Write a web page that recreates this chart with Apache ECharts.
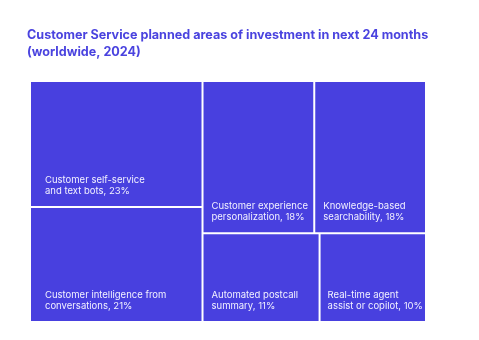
<!DOCTYPE html>
<html><head><meta charset="utf-8">
<script src="https://cdn.jsdelivr.net/npm/echarts@6/dist/echarts.min.js"></script>
<style>html,body{margin:0;padding:0;background:#fff}#c{width:479px;height:340px}</style>
</head><body><div id="c"></div>
<script>
const titleText = "Customer Service planned areas of investment in next 24 months\n(worldwide, 2024)";
const categories = [
  "Customer self-service\nand text bots",
  "Customer intelligence from\nconversations",
  "Customer experience\npersonalization",
  "Knowledge-based\nsearchability",
  "Automated postcall\nsummary",
  "Real-time agent\nassist or copilot"
];
const values = [23, 21, 18, 18, 11, 10];
// grouping used to reproduce layout: left column [0,1], right-top [2,3], right-bottom [4,5]
const groups = [[0, 1], [[2, 3], [4, 5]]];
const padLeft = [14, 14, 8, 8, 8, 7];

const fill = '#4840DF';
function leaf(i) {
  return {
    name: categories[i], value: values[i],
    label: { padding: [0, 0, 9, padLeft[i]] }
  };
}
function sum(arr) { return arr.reduce((a, b) => a + b, 0); }
const leftKids = groups[0].map(leaf);
const rightTop = groups[1][0].map(leaf);
const rightBot = groups[1][1].map(leaf);
const data = [
  { name: 'L', value: sum(groups[0].map(i => values[i])), children: [{ name: 'L1', value: sum(groups[0].map(i => values[i])), children: leftKids }] },
  { name: 'R', value: sum(groups[1].flat().map(i => values[i])), children: [
    { name: 'RT', value: sum(groups[1][0].map(i => values[i])), children: rightTop },
    { name: 'RB', value: sum(groups[1][1].map(i => values[i])), children: rightBot }
  ] }
];

const chart = echarts.init(document.getElementById('c'), null, { renderer: 'canvas' });
chart.setOption({
  animation: false,
  title: {
    text: titleText, left: 27, top: 26, padding: 0,
    textStyle: { color: '#4A43DF', fontFamily: 'Inter', fontWeight: 'bold', fontSize: 12.6, lineHeight: 17.5 }
  },
  series: [{
    type: 'treemap',
    left: 31, top: 82, right: 54, bottom: 19,
    sort: false,
    roam: false, nodeClick: false,
    breadcrumb: { show: false },
    squareRatio: 1,
    label: {
      show: true, position: 'insideBottomLeft', overflow: 'none',
      color: '#F2F1FF', fontFamily: 'Inter', fontSize: 9.5, lineHeight: 11.5,
      formatter: p => p.name + ', ' + p.value + '%'
    },
    upperLabel: { show: false },
    itemStyle: { color: fill, borderWidth: 0, gapWidth: 2, borderColor: '#fff' },
    levels: [
      { itemStyle: { borderWidth: 0, gapWidth: 2, borderColor: '#fff' } },
      { itemStyle: { borderWidth: 0, gapWidth: 2, borderColor: '#fff' } },
      { itemStyle: { borderWidth: 0, gapWidth: 2, borderColor: '#fff' } },
      { itemStyle: { borderWidth: 0, gapWidth: 0, color: fill } }
    ],
    data: data
  }]
});
</script></body></html>
